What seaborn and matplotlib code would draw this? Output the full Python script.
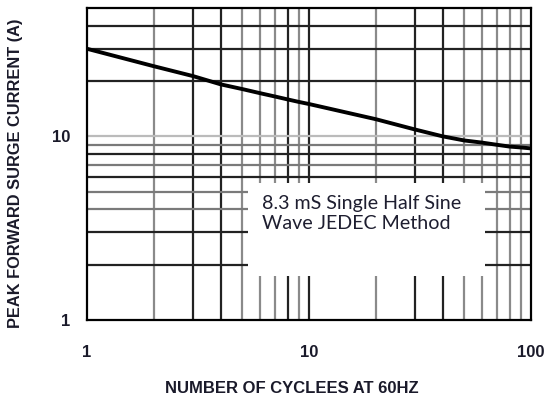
import matplotlib
matplotlib.use("Agg")
import matplotlib.pyplot as plt
import numpy as np
import pandas as pd
import seaborn as sns
from matplotlib.ticker import FixedLocator, NullFormatter

# surge current curve
cycles = [1, 2, 3, 4, 5, 6, 7, 8, 9, 10, 20, 30, 40, 50, 60, 70, 80, 90, 100]
current = [30, 24.1, 21.3, 19.2, 18.1, 17.2, 16.5, 15.9, 15.4, 15.0,
           12.4, 10.9, 10.0, 9.5, 9.25, 9.0, 8.8, 8.7, 8.6]

x_ticks = [1, 10, 100]
x_labels = ['1', '10', '100']
y_ticks = [1, 10]
y_labels = ['1', '10']
x_minor = [2, 3, 4, 5, 6, 7, 8, 9, 20, 30, 40, 50, 60, 70, 80, 90]
y_minor = [2, 3, 4, 5, 6, 7, 8, 9, 20, 30, 40]
note = '8.3 mS Single Half Sine\nWave JEDEC Method'

df = pd.DataFrame({'cycles': cycles, 'current': current})

sns.set_style('white')
plt.rcParams['font.family'] = ['Liberation Sans', 'DejaVu Sans']

fig = plt.figure(figsize=(5.47, 4.01), dpi=100)
ax = fig.add_axes([0.159, 0.202, 0.812, 0.778])
ax.set_xscale('log')
ax.set_yscale('log')
ax.set_xlim(1, 100)
ax.set_ylim(1, 50)

# grid lines, mixed shades like the scanned sheet
dark_v = [3, 4, 8, 10, 30, 40]
for v in x_minor + [10]:
    c = '#222222' if v in dark_v else '#8a8a8a'
    ax.axvline(v, color=c, lw=1.6, zorder=1)
dark_h = [40, 30, 20, 8, 6, 3, 2]
for v in y_minor + [10]:
    c = '#222222' if v in dark_h else ('#bbbbbb' if v == 10 else '#7a7a7a')
    ax.axhline(v, color=c, lw=1.6, zorder=1)

# white note box covering the grid
ax.add_patch(plt.Rectangle((0.362, 0.14), 0.535, 0.30, transform=ax.transAxes,
                           facecolor='white', edgecolor='none', zorder=2))
ax.text(0.395, 0.40, note, transform=ax.transAxes, ha='left', va='top',
        fontsize=14.1, family=['Lato', 'DejaVu Sans'], color='#1e1e30',
        linespacing=1.2, zorder=3)

sns.lineplot(data=df, x='cycles', y='current', ax=ax, color='black', lw=2.8, zorder=4)

ax.xaxis.set_major_locator(FixedLocator(x_ticks))
ax.yaxis.set_major_locator(FixedLocator(y_ticks))
ax.xaxis.set_minor_formatter(NullFormatter())
ax.yaxis.set_minor_formatter(NullFormatter())
ax.set_xticklabels(x_labels)
ax.set_yticklabels(y_labels)
ax.tick_params(which='major', direction='out', length=5, width=1.5, color='black',
               labelsize=12, pad=13)
ax.tick_params(axis='y', pad=7)
ax.tick_params(which='minor', length=0)
for lab in ax.get_xticklabels() + ax.get_yticklabels():
    lab.set_fontweight('bold')
    lab.set_color('#1a1a2a')

for s in ax.spines.values():
    s.set_color('black')
    s.set_linewidth(1.6)
    s.set_zorder(5)

ax.set_xlabel('NUMBER OF CYCLEES AT 60HZ', fontsize=12, fontweight='bold',
              color='#1a1a2a')
ax.xaxis.set_label_coords(0.462, -0.195)
ax.set_ylabel('PEAK FORWARD SURGE CURRENT (A)', fontsize=11.8, fontweight='bold',
              color='#1a1a2a')
ax.yaxis.set_label_coords(-0.145, 0.47)

fig.savefig('out.png', dpi=100, facecolor='white')
